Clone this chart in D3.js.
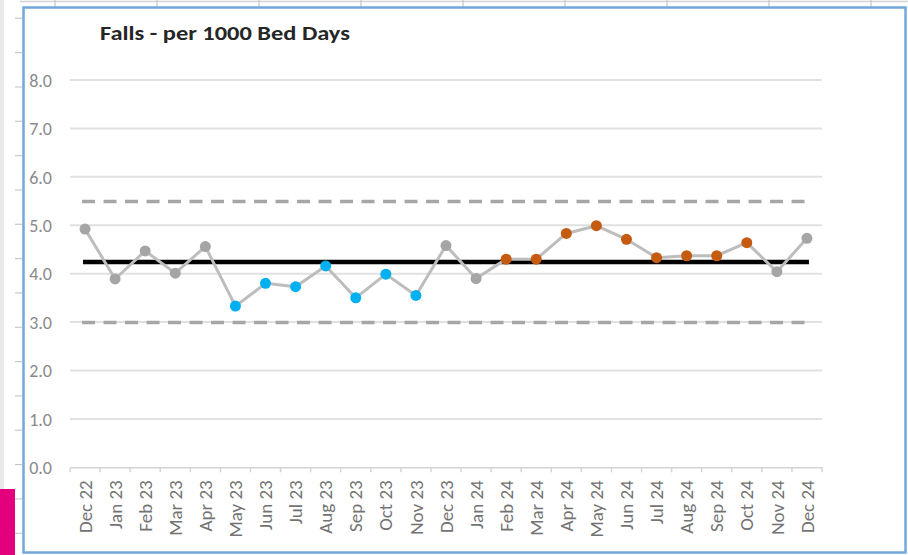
<!DOCTYPE html>
<html>
<head>
<meta charset="utf-8">
<script src="https://cdn.jsdelivr.net/npm/d3@7"></script>
<style>
  html, body { margin: 0; padding: 0; background: #fff; }
  svg { display: block; }
  text { font-family: Carlito, Lato, "Open Sans", sans-serif; }
</style>
</head>
<body>
<svg id="chart" width="908" height="555"></svg>
<script>
const title = "Falls - per 1000 Bed Days";
const categories = ["Dec 22","Jan 23","Feb 23","Mar 23","Apr 23","May 23","Jun 23","Jul 23","Aug 23","Sep 23","Oct 23","Nov 23","Dec 23","Jan 24","Feb 24","Mar 24","Apr 24","May 24","Jun 24","Jul 24","Aug 24","Sep 24","Oct 24","Nov 24","Dec 24"];
const values = [4.92,3.89,4.47,4.01,4.56,3.33,3.80,3.73,4.16,3.50,3.99,3.55,4.58,3.90,4.30,4.30,4.83,4.99,4.71,4.33,4.37,4.37,4.64,4.04,4.73];
const signals = ["none","none","none","none","none","low","low","low","low","low","low","low","none","none","high","high","high","high","high","high","high","high","high","none","none"];
const meanValue = 4.24;
const upperLimit = 5.49;
const lowerLimit = 2.99;
const yTicks = [0,1,2,3,4,5,6,7,8];

const signalColor = { none: "#a5a5a5", low: "#00b0f0", high: "#c55a11" };

const svg = d3.select("#chart");

// Spreadsheet background behind the chart object
const bg = svg.append("g");
bg.append("rect").attr("x", 0).attr("y", 0).attr("width", 4).attr("height", 555).attr("fill", "#e9e9e9");
bg.append("line").attr("x1", 20).attr("x2", 908).attr("y1", 1.5).attr("y2", 1.5).attr("stroke", "#d4d4d4").attr("stroke-width", 1.5);
d3.range(9).forEach(i => {
  const x = 55 + i * 102;
  bg.append("line").attr("x1", x).attr("x2", x).attr("y1", 0).attr("y2", 7).attr("stroke", "#c8c8c8").attr("stroke-width", 1.2);
});
d3.range(16).forEach(i => {
  const y = 18.3 + i * 34.33;
  bg.append("line").attr("x1", 15).attr("x2", 22).attr("y1", y).attr("y2", y).attr("stroke", "#c8c8c8").attr("stroke-width", 1.2);
});
bg.append("rect").attr("x", 0).attr("y", 489).attr("width", 15).attr("height", 66).attr("fill", "#e4007c");

// Chart frame
svg.append("rect").attr("x", 23.5).attr("y", 7.5).attr("width", 882).attr("height", 545)
  .attr("fill", "#fff").attr("stroke", "#72a8da").attr("stroke-width", 2.5);

const x = d3.scaleBand().domain(categories).range([70, 822]);
const y = d3.scaleLinear().domain([0, 8]).range([467.3, 80]);
const cx = d => x(d) + x.bandwidth() / 2;

// Gridlines
svg.append("g").selectAll("line").data(yTicks.filter(v => v > 0)).join("line")
  .attr("x1", 70).attr("x2", 822)
  .attr("y1", d => y(d)).attr("y2", d => y(d))
  .attr("stroke", "#e1e1e1").attr("stroke-width", 2);

// Y axis labels
const yAxis = d3.axisLeft(y).tickValues(yTicks).tickFormat(d3.format(".1f")).tickSize(0).tickPadding(0);
const yg = svg.append("g").attr("transform", "translate(52,0)").call(yAxis);
yg.select(".domain").remove();
yg.selectAll("text").attr("fill", "#8a8a8a").attr("font-size", "18px").attr("text-anchor", "end").attr("dy", "0.35em");

// X axis
const xAxis = d3.axisBottom(x).tickSize(0).tickPadding(0);
const xg = svg.append("g").attr("transform", "translate(0,467.3)").call(xAxis);
xg.select(".domain").attr("stroke", "#d4d4d4").attr("stroke-width", 1.5);
xg.selectAll(".tick line").remove();
xg.selectAll(".tick text")
  .attr("fill", "#737373").attr("font-size", "19px")
  .attr("text-anchor", "end")
  .attr("transform", "translate(0,13) rotate(-90)")
  .attr("x", 0).attr("y", 0).attr("dy", "0.35em");
// boundary tick marks
xg.append("g").selectAll("line").data(categories.concat(["__end"])).join("line")
  .attr("x1", (d, i) => 70 + i * x.step()).attr("x2", (d, i) => 70 + i * x.step())
  .attr("y1", 0).attr("y2", 5)
  .attr("stroke", "#d4d4d4").attr("stroke-width", 1.5);

// Control limits
const x0 = cx(categories[0]), x1 = cx(categories[categories.length - 1]);
[upperLimit, lowerLimit].forEach(v => {
  svg.append("line").attr("x1", x0 - 3).attr("x2", x1 + 1).attr("y1", y(v)).attr("y2", y(v))
    .attr("stroke", "#a6a6a6").attr("stroke-width", 3.5).attr("stroke-dasharray", "13,8.5");
});
// Mean
svg.append("line").attr("x1", x0 - 2).attr("x2", x1 + 2).attr("y1", y(meanValue)).attr("y2", y(meanValue))
  .attr("stroke", "#000").attr("stroke-width", 4.5);

// Data line
const line = d3.line().x((d, i) => cx(categories[i])).y(d => y(d));
svg.append("path").datum(values).attr("d", line)
  .attr("fill", "none").attr("stroke", "#bdbdbd").attr("stroke-width", 3).attr("stroke-linejoin", "round");

// Markers
svg.append("g").selectAll("circle").data(values).join("circle")
  .attr("cx", (d, i) => cx(categories[i])).attr("cy", d => y(d)).attr("r", 5.5)
  .attr("fill", (d, i) => signalColor[signals[i]]);

// Title
svg.append("text").attr("x", 100).attr("y", 39.5).text(title)
  .attr("font-size", "20px").attr("font-weight", "bold").attr("fill", "#262626")
  .attr("textLength", 250).attr("lengthAdjust", "spacingAndGlyphs");
</script>
</body>
</html>
